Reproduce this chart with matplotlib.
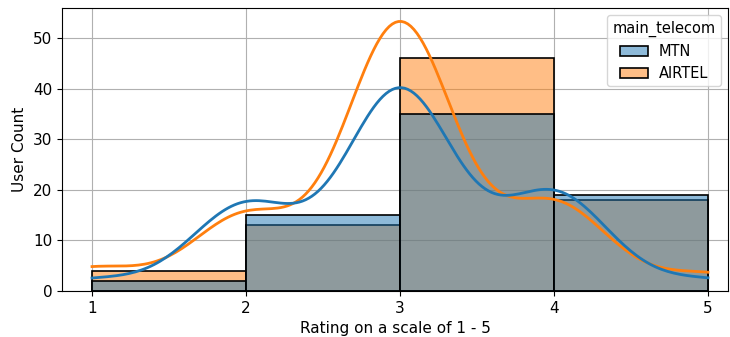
import numpy as np
import pandas as pd
import matplotlib
matplotlib.use("Agg")
import matplotlib.pyplot as plt
import seaborn as sns

ratings = [1, 2, 3, 4, 5]
mtn_counts = [2, 15, 35, 17, 2]
airtel_counts = [4, 13, 46, 15, 3]

df = pd.DataFrame({
    "rating": np.concatenate([np.repeat(ratings, mtn_counts), np.repeat(ratings, airtel_counts)]),
    "main_telecom": ["MTN"] * sum(mtn_counts) + ["AIRTEL"] * sum(airtel_counts),
})

fig = plt.figure(figsize=(7.3, 3.37), dpi=100)
ax = fig.add_axes([62 / 730, 1 - 291 / 337, (728 - 62) / 730, (291 - 8) / 337])
sns.histplot(data=df, x="rating", hue="main_telecom", bins=4, kde=True,
             edgecolor="black", linewidth=1.2, ax=ax, line_kws={"linewidth": 2})
ax.set_xlim(0.805, 5.13)
ax.set_xticks([1, 2, 3, 4, 5])
ax.grid(True, color="#b0b0b0", linewidth=0.8)
ax.set_axisbelow(True)
ax.set_xlabel("Rating on a scale of 1 - 5", fontsize=11)
ax.set_ylabel("User Count", fontsize=11)
ax.tick_params(labelsize=11)
leg = ax.get_legend()
leg.set_title("main_telecom", prop={"size": 10.5})
for t in leg.get_texts():
    t.set_fontsize(10.5)
fig.savefig("out.png", dpi=100)
